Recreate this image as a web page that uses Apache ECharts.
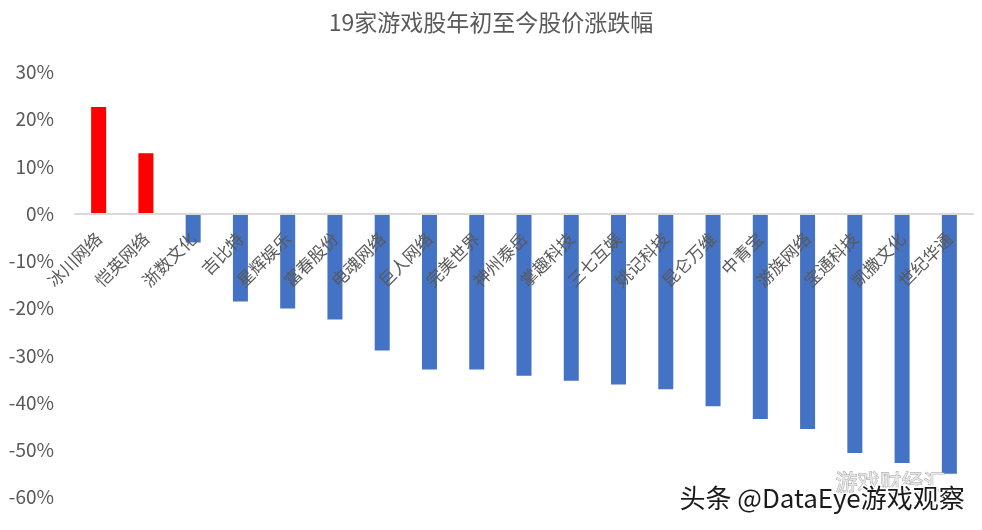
<!DOCTYPE html>
<html>
<head>
<meta charset="utf-8">
<script src="https://cdn.jsdelivr.net/npm/echarts@6/dist/echarts.min.js"></script>
<style>
html,body{margin:0;padding:0;background:#fff;}
#main{width:982px;height:530px;}
</style>
</head>
<body>
<div id="main"></div>
<script>
const titleText = '19家游戏股年初至今股价涨跌幅';
const categories = ['冰川网络','恺英网络','浙数文化','吉比特','星辉娱乐','富春股份','电魂网络','巨人网络','完美世界','神州泰岳','掌趣科技','三七互娱','姚记科技','昆仑万维','中青宝','游族网络','宝通科技','凯撒文化','世纪华通'];
const changes = [22.6, 12.8, -6.1, -18.6, -20.1, -22.4, -29.0, -33.0, -33.0, -34.3, -35.4, -36.2, -37.2, -40.8, -43.5, -45.6, -50.7, -52.8, -55.1];
const yMin = -60, yMax = 30, yStep = 10;
const upColor = '#FF0000';
const downColor = '#4472C4';
const watermark1 = '头条 @DataEye游戏观察';
const watermark2 = '游戏财经汇';

const gridTop = 72, gridBottom = 33, H = 530;
const plotH = H - gridTop - gridBottom;
const zeroOffset = -plotH * (0 - yMin) / (yMax - yMin);

const chart = echarts.init(document.getElementById('main'));
const font = '"Noto Sans CJK SC", "Noto Sans", sans-serif';
chart.setOption({
  backgroundColor: '#fff',
  animation: false,
  title: {
    text: titleText,
    left: 'center',
    top: 6,
    textStyle: {color: '#595959', fontSize: 23, fontWeight: 'normal', fontFamily: font}
  },
  grid: {left: 75, right: 9, top: gridTop, bottom: gridBottom, containLabel: false, outerBoundsMode: 'none'},
  xAxis: {
    type: 'category',
    data: categories,
    position: 'bottom',
    offset: zeroOffset,
    z: 5,
    axisLine: {onZero: false, lineStyle: {color: '#d9d9d9', width: 2}},
    axisTick: {show: false},
    axisLabel: {rotate: 45, interval: 0, color: '#595959', fontSize: 17, margin: 22, fontFamily: font}
  },
  yAxis: {
    type: 'value',
    min: yMin, max: yMax, interval: yStep,
    axisLine: {show: false},
    axisTick: {show: false},
    splitLine: {show: false},
    axisLabel: {formatter: '{value}%', color: '#595959', fontSize: 19, margin: 21, fontFamily: font}
  },
  series: [{
    type: 'bar',
    z: 2,
    data: changes.map(v => ({value: v, itemStyle: {color: v >= 0 ? upColor : downColor}})),
    barWidth: 15
  }],
  graphic: [
    {type: 'text', left: 835, top: 470, z: 100,
     style: {text: watermark2, fill: '#e6e6e6', stroke: '#9a9a9a', lineWidth: 0.8, font: '22px ' + font}},
    {type: 'text', left: 678, top: 484, z: 101,
     style: {text: watermark1, fill: '#1a1a1a', stroke: '#ffffff', lineWidth: 3, font: '26px ' + font}}
  ]
});
</script>
</body>
</html>
